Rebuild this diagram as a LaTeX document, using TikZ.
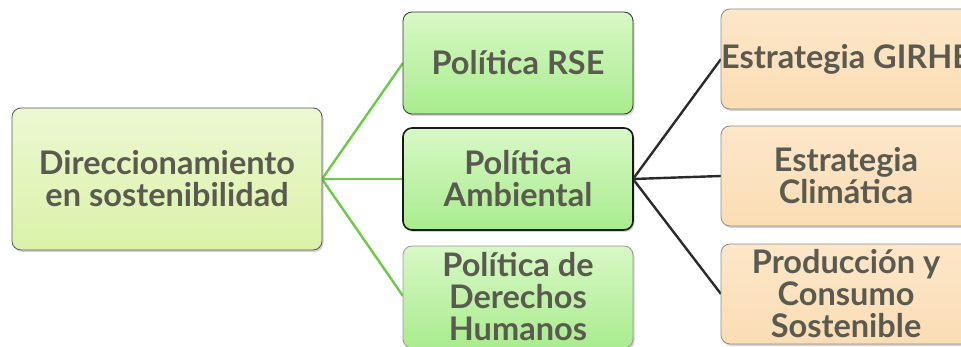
\documentclass[tikz,border=0pt]{standalone}
\usepackage{fontspec}
\setmainfont{Lato}
\usetikzlibrary{shadows}
\definecolor{txtgray}{HTML}{5A5A50}
\definecolor{rootA}{HTML}{EDF8D2}
\definecolor{rootB}{HTML}{D9F2A8}
\definecolor{polA}{HTML}{D8F8C6}
\definecolor{polB}{HTML}{A9EC8E}
\definecolor{estA}{HTML}{FCE7C9}
\definecolor{estB}{HTML}{FBDDB4}
\definecolor{linkgreen}{HTML}{6CCB46}
\definecolor{linkdark}{HTML}{2A2A2A}

\begin{document}
\begin{tikzpicture}[x=1pt, y=-1pt,
  box/.style={rounded corners=9pt, align=center, text=txtgray,
    font=\fontsize{32.5}{32}\selectfont\bfseries, inner sep=0pt,
    drop shadow={shadow xshift=1.5pt, shadow yshift=-2pt, opacity=0.35}},
  rootbox/.style={box, draw=black!65, thick, top color=rootA, bottom color=rootB,
    minimum width=310pt, minimum height=142pt},
  polbox/.style={box, draw=black!80, thick, top color=polA, bottom color=polB,
    minimum width=230pt, minimum height=102pt},
  estbox/.style={box, draw=black!45, thick, top color=estA, bottom color=estB,
    minimum width=250pt, minimum height=100pt},
  greenlink/.style={draw=linkgreen, line width=2.4pt},
  darklink/.style={draw=linkdark, line width=2.4pt}]
  % Frame of the picture
  \useasboundingbox (0,0) rectangle (961,347);
  \clip (0,0) rectangle (961,347);

  % Connectors
  \coordinate (rootout) at (322,179);
  \coordinate (ambout) at (633,179);
  \draw[greenlink] (rootout) -- (403,63) coordinate (rsein);
  \draw[greenlink] (rootout) -- (403,179);
  \draw[greenlink] (rootout) -- (403,296);
  \foreach \y in {59,176,294}
    \draw[darklink] (ambout) -- (721,\y);

  % Root
  \node[rootbox] (root) at (167,179) {Direccionamiento\\en sostenibilidad};

  % Policies
  \node[polbox] (rse) at (518,63) {Política RSE};
  \node[polbox, line width=1.6pt, draw=black!90] (amb) at (518,179) {Política\\Ambiental};
  \node[polbox, draw=black!40] (ddhh) at (518,297) {Política de\\Derechos\\Humanos};

  % Strategies
  \node[estbox] (girhe) at (846,59) {Estrategia GIRHE};
  \node[estbox] (clim) at (846,176) {Estrategia\\Climática};
  \node[estbox] (prod) at (846,294) {Producción y\\Consumo\\Sostenible};
\end{tikzpicture}
\end{document}
